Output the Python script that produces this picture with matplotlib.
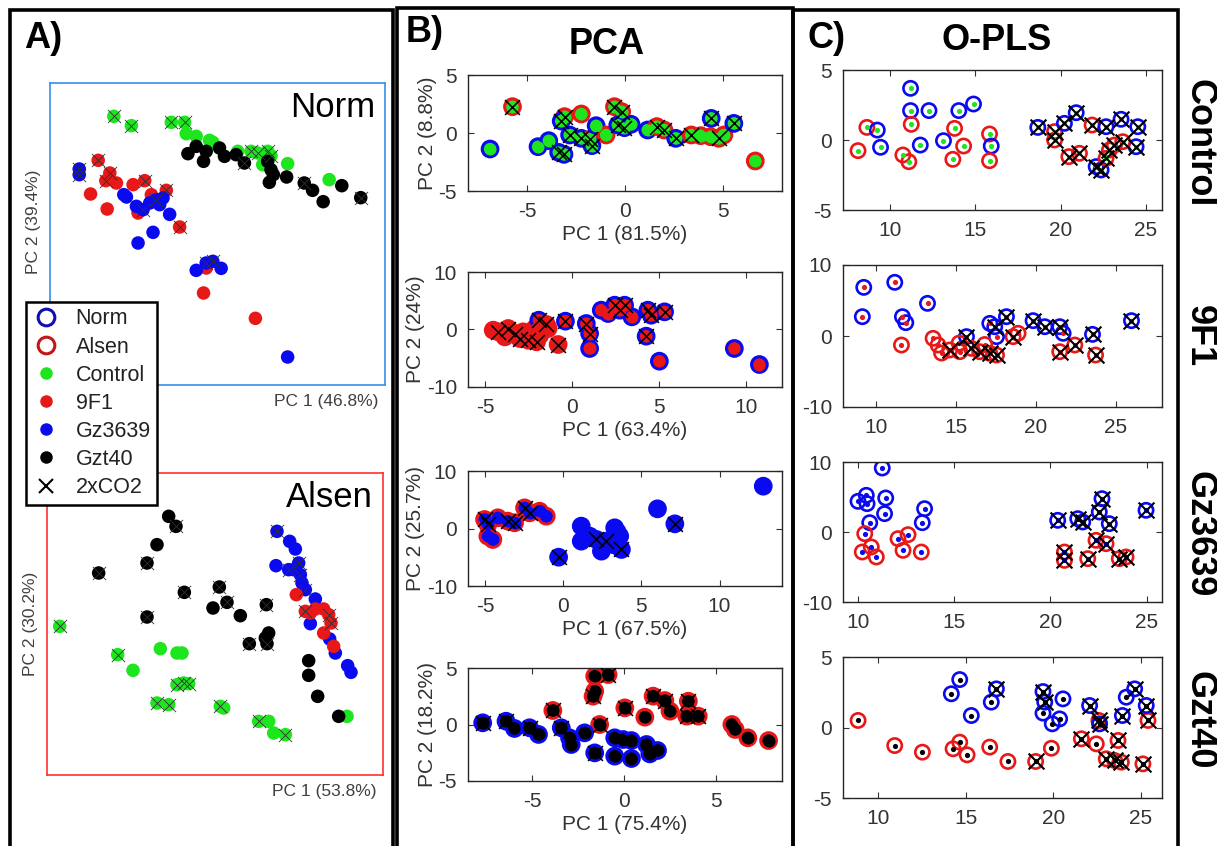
import numpy as np
import matplotlib
matplotlib.use('Agg')
import matplotlib.pyplot as plt
from matplotlib.lines import Line2D
from matplotlib.patches import Rectangle

plt.rcParams['font.family'] = ['Liberation Sans', 'DejaVu Sans']
plt.rcParams['axes.unicode_minus'] = False

# ---------------- data ----------------
# treatment codes: C=Control, F=9F1, G=Gz3639, T=Gzt40 ; co2: 1 = 2xCO2
a_norm_x = [1.92, 2.45, 3.65, 4.05, 4.10, 4.40, 4.80, 4.90, 5.65, 6.05, 6.25, 6.55, 6.65, 6.40, 7.15, 8.40,
            4.40, 4.15, 4.70, 4.62, 5.10, 5.25, 5.60, 5.85, 6.55, 6.65, 6.72, 6.60, 7.12, 7.65, 7.90, 8.22, 8.78, 9.35,
            1.45, 1.22, 1.72, 1.80, 1.68, 2.00, 2.50, 2.85, 3.05, 3.50, 2.65, 3.90, 4.70, 4.62, 6.18,
            0.88, 0.88, 2.22, 2.30, 2.60, 2.80, 3.00, 3.20, 3.40, 3.30, 3.60, 3.10, 2.65, 4.40, 4.70, 4.90, 5.15, 7.15]
a_norm_y = [8.06, 7.78, 7.88, 7.88, 7.54, 7.46, 7.34, 7.28, 7.01, 7.01, 6.96, 7.01, 6.88, 6.61, 6.64, 6.16,
            7.16, 6.94, 7.01, 6.71, 7.11, 6.86, 6.91, 6.66, 6.71, 6.46, 6.31, 6.08, 6.24, 6.06, 5.84, 5.50, 5.98, 5.62,
            6.74, 5.73, 5.28, 6.36, 6.13, 6.06, 6.01, 6.13, 5.71, 5.84, 5.16, 4.74, 3.51, 2.76, 2.00,
            6.48, 6.31, 5.71, 5.64, 5.36, 5.26, 5.46, 5.56, 5.61, 5.41, 5.12, 4.58, 4.26, 3.44, 3.66, 3.71, 3.50, 0.84]
a_norm_trt = "C" * 16 + "T" * 18 + "F" * 15 + "G" * 18
a_norm_co2 = "1111000001111000" + "000000010000010001" + "100110010101000" + "110001010000001100"

a_alsen_x = [0.38, 2.12, 2.58, 3.40, 3.90, 4.05, 3.90, 4.10, 4.25, 3.30, 3.65, 5.20, 5.30, 6.35, 6.65, 6.80, 7.15, 9.00,
             3.65, 3.87, 3.30, 3.00, 1.55, 3.00, 4.12, 5.17, 5.40, 4.98, 5.80, 6.58, 6.65, 6.55, 6.60, 6.07, 7.85, 7.85, 8.12, 8.75,
             6.90, 7.28, 7.45, 6.87, 7.25, 7.40, 7.55, 7.60, 7.65, 7.75, 8.05, 7.90, 8.48, 8.65, 9.02, 9.12,
             7.48, 7.75, 7.90, 8.05, 8.30, 8.45, 8.52, 8.30, 8.60]
a_alsen_y = [4.46, 3.61, 3.14, 3.79, 3.66, 3.66, 2.71, 2.76, 2.74, 2.16, 2.11, 2.06, 2.01, 1.61, 1.61, 1.26, 1.21, 1.76,
             7.76, 7.46, 6.91, 6.36, 6.06, 4.74, 5.48, 5.64, 5.18, 5.01, 4.78, 5.11, 4.26, 4.11, 3.94, 3.94, 3.43, 2.99, 2.36, 1.76,
             7.31, 7.01, 6.78, 6.28, 6.16, 6.16, 6.36, 6.01, 5.76, 5.56, 5.28, 4.54, 4.08, 3.66, 3.28, 3.08,
             5.41, 4.91, 4.86, 4.98, 4.98, 4.81, 4.56, 4.26, 3.86]
a_alsen_trt = "C" * 18 + "T" * 20 + "G" * 16 + "F" * 9
a_alsen_co2 = "110000111111010010" + "01011111100100110000" + "1000101101000000" + "010001100"

# PCA (genotype: N = Norm, A = Alsen)
b1_x = [-6.92, -5.77, -4.46, -3.91, -3.40, -3.13, -3.10, -3.27, -2.24, -2.84, -2.24, -1.77, -1.70, -1.48, -0.97, -0.54,
        -0.17, -0.37, -0.03, 0.31, 1.16, 1.63, 2.00, 2.60, 3.40, 3.88, 4.39, 4.81, 5.07, 4.42, 5.58, 6.68]
b1_y = [-1.38, 2.27, -1.18, -0.66, -1.67, -1.84, 1.41, 1.03, 1.64, -0.17, -0.46, -0.52, -1.09, 0.63, -0.17, 2.27,
        1.84, 0.69, 0.46, 0.75, 0.26, 0.55, 0.26, -0.46, -0.17, -0.23, -0.32, -0.46, -0.17, 1.26, 0.83, -2.41]
b1_geno = "NANNNNANANNANNAAANNNNAANAAAAANNA"
b1_co2 = "01001111011110011110011110010110"

b2_x = [-4.26, -3.69, -3.31, -3.02, -2.54, -2.06, -4.55, -3.88, -2.83, -1.87, -1.40, -2.16, -1.93, -1.49, -0.82, -0.40,
        0.80, 0.99, 0.99, 1.66, 2.05, 2.43, 2.72, 3.00, 3.42, 4.34, 4.53, 5.30, 4.24, 5.00, 9.31, 10.75]
b2_y = [-0.41, 0.17, -0.70, -1.57, -1.86, -2.14, -0.12, -1.28, -0.41, -0.99, 0.17, 0.17, 1.62, 0.87, -2.61, 1.45,
        1.04, -0.70, -3.30, 3.36, 2.78, 4.23, 3.36, 4.23, 2.20, 3.36, 2.49, 3.07, -1.16, -5.51, -3.30, -6.09]
b2_geno = "A" * 12 + "NAA" + "N" * 17
b2_co2 = "111111000000" + "11111100011101111000"

b3_x = [-5.04, -4.83, -4.83, -4.51, -4.19, -3.55, -3.12, -2.48, -2.16, -1.52, -1.09, -0.30, 1.15, 1.15, 1.69, 2.12,
        2.44, 2.76, 3.29, 3.61, 3.72, 6.03, 7.14, 12.80, 3.45, 3.20]
b3_y = [1.57, 0.70, -1.33, -1.91, 1.86, 1.28, 0.99, 3.59, 2.72, 3.01, 2.14, -4.99, 0.41, -2.20, -1.33, -1.91,
        -3.94, -2.20, 0.12, -1.33, -3.65, 3.42, 0.81, 7.36, -0.60, -2.80]
b3_geno = "A" * 11 + "N" * 15
b3_co2 = "11000111100" + "100010100101000"

b4_x = [-1.60, -0.87, -1.60, -1.69, -3.88, -1.33, 0.04, 1.13, 1.58, 2.22, 2.50, 3.50, 3.41, 4.04, 5.87, 6.05, 6.74, 7.87,
        -7.70, -6.43, -5.97, -5.15, -4.66, -3.42, -2.97, -2.88, -2.15, -1.60, -0.51, -0.05, 0.40, -0.51, 0.40, 1.22, 1.40, 1.82]
b4_y = [4.28, 4.42, 2.95, 2.51, 1.24, 0.00, 1.47, 0.65, 2.51, 2.12, 1.18, 2.06, 0.74, 0.74, 0.00, -0.44, -1.18, -1.42,
        0.15, 0.29, -0.35, -0.29, -0.88, -0.29, -1.18, -1.77, -0.74, -2.51, -1.18, -1.33, -1.42, -2.80, -3.01, -1.77, -2.60, -2.30]
b4_geno = "A" * 18 + "N" * 18
b4_co2 = "010111101101110000" + "110101000100000000"

# O-PLS
c1_x = [8.13, 8.65, 9.26, 9.45, 10.76, 11.11, 11.21, 11.21, 11.25, 12.29, 11.78, 13.14, 13.79, 14.04, 14.90, 14.32,
        13.69, 15.84, 15.94, 15.84, 18.67, 19.65, 19.65, 20.23, 20.92, 20.49, 21.11, 21.85, 22.67, 23.55, 24.53, 24.43,
        22.09, 22.38, 22.87, 23.16, 23.65, 22.67]
c1_y = [-0.76, 0.90, 0.71, -0.52, -1.07, -1.55, 3.69, 2.10, 1.12, 2.10, -0.36, -0.05, 0.83, 2.10, 2.57, -0.43,
        -1.38, 0.43, -0.43, -1.48, 0.90, 0.60, 0.00, 1.19, 1.95, -1.19, -0.95, 1.07, 0.95, 1.48, 0.95, -0.48,
        -1.90, -2.14, -0.71, -0.36, -0.12, -1.31]
c1_geno = "AANNAANNANNNANNAAANA" + "NAANNAAANNNNNNAAAA"
c1_co2 = "0" * 20 + "1" * 18

c2_x = [9.23, 9.14, 11.17, 11.65, 11.86, 13.22, 11.59, 13.57, 13.88, 14.61, 15.24, 15.66, 15.97, 16.49, 17.12, 17.43,
        17.12, 17.54, 18.16, 18.58, 18.89, 19.83, 20.56, 21.50, 21.71, 21.50, 22.44, 23.55, 23.74, 25.99, 17.54,
        14.10, 15.20, 16.80]
c2_y = [6.85, 2.72, 7.56, 2.72, 1.88, 4.60, -1.27, -0.33, -1.27, -1.97, -2.21, -0.09, -1.74, -2.21, 1.78, 1.31,
        -2.44, -2.68, 2.72, -0.09, 0.38, 2.16, 1.31, 1.31, 0.38, -2.21, -1.27, 0.23, -2.68, 2.16, -0.09,
        -2.40, -1.00, -1.20]
c2_geno = "NNNNNN" + "AAAAANAANNAANAANNNNAANANNAAA"
c2_co2 = "000000" + "0001011101111101110111110000"

c3_x = [11.26, 10.00, 10.43, 10.47, 11.44, 11.38, 10.61, 13.46, 13.34, 10.35, 10.22, 10.69, 10.95, 12.08, 12.60, 12.34,
        13.29, 20.38, 21.42, 21.68, 22.68, 22.54, 23.06, 24.97, 20.73, 20.73, 21.94, 22.37, 22.89, 23.58, 23.93]
c3_y = [9.14, 4.38, 5.24, 4.05, 4.86, 2.62, 1.33, 3.33, 1.33, -0.24, -2.86, -2.14, -3.57, -0.95, -0.38, -2.62,
        -2.86, 1.67, 1.90, 1.43, 4.76, 2.86, 1.19, 3.10, -2.86, -4.05, -3.81, -1.19, -1.67, -3.81, -3.57]
c3_geno = "N" * 9 + "A" * 8 + "N" * 7 + "A" * 7
c3_co2 = "0" * 17 + "1" * 14

c4_x = [8.86, 10.95, 12.53, 14.28, 14.66, 15.08, 16.37, 17.41, 18.99, 19.89, 21.60, 22.45, 22.60, 23.69, 23.02, 23.50,
        23.88, 25.11, 25.40, 14.66, 14.18, 15.32, 16.46, 16.75, 19.41, 19.51, 19.41, 19.94, 20.36, 20.55, 22.07, 22.64,
        23.94, 24.16, 24.64, 25.30]
c4_y = [0.50, -1.28, -1.75, -1.51, -1.04, -1.94, -1.39, -2.41, -2.41, -1.47, -0.80, -1.16, 0.50, -0.92, -2.22, -2.34,
        -2.46, -2.58, 0.50, 3.40, 2.39, 0.85, 1.80, 2.74, 2.55, 1.80, 1.02, 0.26, 0.61, 2.03, 1.56, 0.26,
        0.85, 2.15, 2.74, 1.56]
c4_geno = "A" * 19 + "N" * 17
c4_co2 = "0000000010101111111" + "00001110000111011"

row_names = ["Control", "9F1", "Gz3639", "Gzt40"]
b_xlabels = ["PC 1 (81.5%)", "PC 1 (63.4%)", "PC 1 (67.5%)", "PC 1 (75.4%)"]
b_ylabels = ["PC 2 (8.8%)", "PC 2 (24%)", "PC 2 (25.7%)", "PC 2 (18.2%)"]

# ---------------- styling ----------------
BLUE = '#0a0af0'
RED = '#e81818'
GREEN = '#1ee61e'
BLACK = '#000000'
trt_col = {'C': GREEN, 'F': RED, 'G': BLUE, 'T': BLACK}
geno_col = {'N': BLUE, 'A': RED}
TXT = '#333333'

W, H = 1217, 846
fig = plt.figure(figsize=(W / 100, H / 100), dpi=100)


def px_axes(l, t, r, b):
    return fig.add_axes([l / W, 1 - b / H, (r - l) / W, (b - t) / H])


def ftext(x, y, s, **kw):
    fig.text(x / W, 1 - y / H, s, ha='center', va='center', **kw)


def draw_a(ax, xs, ys, trt, co2, frame_col, name, xlab, ylab):
    xs, ys = np.array(xs), np.array(ys)
    m = np.array([c == '1' for c in co2])
    ax.scatter(xs, ys, s=95, c=[trt_col[t] for t in trt], linewidths=0, zorder=2)
    ax.scatter(xs[m], ys[m], s=90, marker='x', c='#303030', linewidths=0.6, zorder=3)
    ax.set_xlim(0, 10.08)
    ax.set_ylim(0, 9.06)
    ax.set_xticks([])
    ax.set_yticks([])
    for sp in ax.spines.values():
        sp.set_color(frame_col)
        sp.set_linewidth(1.2)
    ax.text(0.97, 0.92, name, transform=ax.transAxes, ha='right', va='center', fontsize=25, color='k')
    ax.text(0.98, -0.055, xlab, transform=ax.transAxes, ha='right', va='center', fontsize=12.5, color='#404040')
    ax.text(-0.05, 0.5 + (0.04 if name == 'Norm' else 0.0), ylab, transform=ax.transAxes, rotation=90,
            ha='center', va='center', fontsize=12.5, color='#404040',
            bbox=dict(facecolor='white', edgecolor='none', pad=6))


def style_small(ax, xlim, ylim, yt, xt):
    ax.set_xlim(*xlim)
    ax.set_ylim(*ylim)
    ax.set_yticks(yt)
    ax.set_xticks(xt)
    ax.tick_params(direction='in', length=4, width=0.8, top=True, right=True,
                   labelsize=15, labelcolor=TXT, color=TXT, pad=8)
    for sp in ax.spines.values():
        sp.set_color('#262626')
        sp.set_linewidth(1.0)


def draw_pca(ax, xs, ys, geno, co2, fill):
    xs, ys = np.array(xs), np.array(ys)
    m = np.array([c == '1' for c in co2])
    ax.scatter(xs, ys, s=125, facecolors=fill, edgecolors=[geno_col[g] for g in geno], linewidths=2.3, zorder=2)
    ax.scatter(xs, ys, s=75, c=fill, linewidths=0, zorder=3)
    ax.scatter(xs[m], ys[m], s=115, marker='x', c='k', linewidths=1.1, zorder=4)


def draw_opls(ax, xs, ys, geno, co2, fill):
    xs, ys = np.array(xs), np.array(ys)
    m = np.array([c == '1' for c in co2])
    ax.scatter(xs, ys, s=105, facecolors='none', edgecolors=[geno_col[g] for g in geno], linewidths=1.9, zorder=2)
    ax.scatter(xs, ys, s=14, c=fill, linewidths=0, zorder=3)
    ax.scatter(xs[m], ys[m], s=130, marker='x', c='k', linewidths=1.5, zorder=4)


# ---------------- panel A ----------------
ax = px_axes(50, 83, 385, 385)
draw_a(ax, a_norm_x, a_norm_y, a_norm_trt, a_norm_co2, '#3a8ee6', 'Norm', 'PC 1 (46.8%)', 'PC 2 (39.4%)')
ax = px_axes(47, 473, 383, 775)
draw_a(ax, a_alsen_x, a_alsen_y, a_alsen_trt, a_alsen_co2, '#ff3030', 'Alsen', 'PC 1 (53.8%)', 'PC 2 (30.2%)')

handles = [
    Line2D([], [], ls='none', marker='o', ms=12, mfc='none', mec='#1010b0', mew=2.2),
    Line2D([], [], ls='none', marker='o', ms=12, mfc='none', mec='#c01818', mew=2.2),
    Line2D([], [], ls='none', marker='o', ms=8, mfc=GREEN, mec=GREEN),
    Line2D([], [], ls='none', marker='o', ms=8, mfc=RED, mec=RED),
    Line2D([], [], ls='none', marker='o', ms=8, mfc=BLUE, mec=BLUE),
    Line2D([], [], ls='none', marker='o', ms=8, mfc=BLACK, mec=BLACK),
    Line2D([], [], ls='none', marker='x', ms=10, mec='k', mew=1.5),
]
leg = fig.legend(handles, ['Norm', 'Alsen', 'Control', '9F1', 'Gz3639', 'Gzt40', '2xCO2'],
                 loc='upper left', bbox_to_anchor=(26 / W, 1 - 302 / H), frameon=True, fancybox=False,
                 edgecolor='k', framealpha=1, fontsize=15.5, labelspacing=0.33, handletextpad=0.7,
                 borderpad=0.3, handlelength=1.3, borderaxespad=0)
leg.get_frame().set_linewidth(1.8)
for t in leg.get_texts():
    t.set_color('#222222')

# ---------------- panel B (PCA) ----------------
b_data = [(b1_x, b1_y, b1_geno, b1_co2, GREEN), (b2_x, b2_y, b2_geno, b2_co2, RED),
          (b3_x, b3_y, b3_geno, b3_co2, BLUE), (b4_x, b4_y, b4_geno, b4_co2, BLACK)]
b_boxes = [(468, 75, 782, 191), (468, 272, 782, 387), (468, 471, 782, 586), (468, 668, 782, 781)]
b_lims = [((-8.05, 8.05), (-5, 5), [-5, 0, 5], [-5, 0, 5]),
          ((-6, 12.05), (-10, 10), [-10, 0, 10], [-5, 0, 5, 10]),
          ((-6.1, 14.0), (-10, 10), [-10, 0, 10], [-5, 0, 5, 10]),
          ((-8.5, 8.6), (-5, 5), [-5, 0, 5], [-5, 0, 5])]
for i in range(4):
    ax = px_axes(*b_boxes[i])
    draw_pca(ax, *b_data[i])
    xl, yl, yt, xt = b_lims[i]
    style_small(ax, xl, yl, yt, xt)
    ax.set_xlabel(b_xlabels[i], fontsize=15, color=TXT, labelpad=3)
    ax.set_ylabel(b_ylabels[i], fontsize=15, color=TXT, labelpad=1)

# ---------------- panel C (O-PLS) ----------------
c_data = [(c1_x, c1_y, c1_geno, c1_co2, GREEN), (c2_x, c2_y, c2_geno, c2_co2, RED),
          (c3_x, c3_y, c3_geno, c3_co2, BLUE), (c4_x, c4_y, c4_geno, c4_co2, BLACK)]
c_boxes = [(843, 70, 1162, 210), (843, 265, 1162, 407), (843, 462, 1162, 602), (843, 657, 1162, 798)]
c_lims = [((7.25, 25.95), (-5, 5), [-5, 0, 5]),
          ((7.93, 27.9), (-10, 10), [-10, 0, 10]),
          ((9.22, 25.8), (-10, 10), [-10, 0, 10]),
          ((8.0, 26.2), (-5, 5), [-5, 0, 5])]
label_y = [143, 336, 534, 720]
for i in range(4):
    ax = px_axes(*c_boxes[i])
    draw_opls(ax, *c_data[i])
    xl, yl, yt = c_lims[i]
    style_small(ax, xl, yl, yt, [10, 15, 20, 25])
    ftext(1199, label_y[i], row_names[i], fontsize=26, fontweight='bold', rotation=-90)

# ---------------- frames and headings ----------------
for l, t, r in [(10, 10, 393), (397, 8, 793), (793, 10, 1178)]:
    fig.add_artist(Rectangle((l / W, -0.1), (r - l) / W, 1.1 - t / H, transform=fig.transFigure,
                             fill=False, edgecolor='k', linewidth=2.6, zorder=10))

ftext(43, 38, 'A)', fontsize=26, fontweight='bold')
ftext(425, 32, 'B)', fontsize=26, fontweight='bold')
ftext(607, 45, 'PCA', fontsize=26, fontweight='bold')
ftext(826, 38, 'C)', fontsize=26, fontweight='bold')
ftext(997, 40, 'O-PLS', fontsize=26, fontweight='bold')

fig.savefig('out.png', dpi=100)
